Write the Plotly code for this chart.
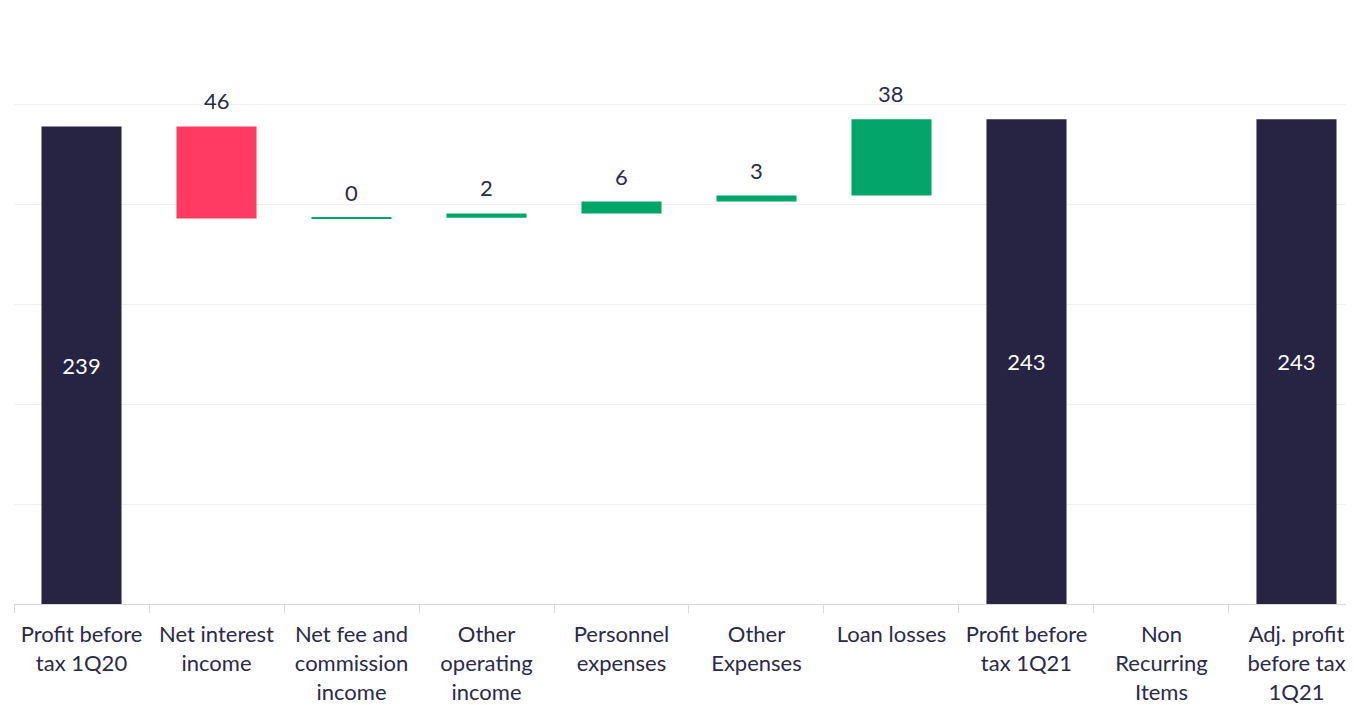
import plotly.graph_objects as go

# categories and values (EUR m)
categories = [
    "Profit before<br>tax 1Q20",
    "Net interest<br>income",
    "Net fee and<br>commission<br>income",
    "Other<br>operating<br>income",
    "Personnel<br>expenses",
    "Other<br>Expenses",
    "Loan losses",
    "Profit before<br>tax 1Q21",
    "Non<br>Recurring<br>Items",
    "Adj. profit<br>before tax<br>1Q21",
]
measures = ["absolute", "relative", "relative", "relative", "relative",
            "relative", "relative", "total", "relative", "total"]
values = [238.8, -46.0, 0.3, 2.2, 5.9, 3.0, 38.2, 0, 0, 0]
labels = ["239", "46", "0", "2", "6", "3", "38", "243", "", "243"]

NAVY = "#262343"
RED = "#FF3B64"
GREEN = "#03A56A"
TEXT = "#2B2A47"
FONT = "Lato"

# running totals, for the label positions
tops = []
running = 0
for m, v in zip(measures, values):
    if m == "absolute":
        start, running = 0, v
    elif m == "total":
        start = 0
    else:
        start, running = running, running + v
    tops.append(max(start, running))

text_in = [lab if m != "relative" else "" for m, lab in zip(measures, labels)]

fig = go.Figure(go.Waterfall(
    x=categories,
    y=values,
    measure=measures,
    text=text_in,
    textposition="inside",
    insidetextanchor="middle",
    textfont=dict(family=FONT, size=22, color="white"),
    increasing=dict(marker=dict(color=GREEN, line=dict(width=0))),
    decreasing=dict(marker=dict(color=RED, line=dict(width=0))),
    totals=dict(marker=dict(color=NAVY, line=dict(width=0))),
    connector=dict(visible=False),
    hoverinfo="skip",
))

# labels above the change bars
for cat, m, lab, top in zip(categories, measures, labels, tops):
    if m == "relative" and lab:
        fig.add_annotation(x=cat, y=top, text=lab, showarrow=False,
                           yanchor="bottom", yshift=10,
                           font=dict(family=FONT, size=22, color=TEXT))

# page body has an 8px margin, so the figure is sized to fit the window
fig.update_layout(
    width=1346,
    height=697,
    margin=dict(l=6, r=0, t=0, b=101),
    plot_bgcolor="white",
    paper_bgcolor="white",
    showlegend=False,
    waterfallgap=0.407,
    font=dict(family=FONT, size=22, color=TEXT),
)
fig.update_xaxes(
    type="category",
    range=[-0.5, 9.426],
    showline=True, linecolor="#D9D9D9", linewidth=1,
    ticks="outside", tickson="boundaries", ticklen=8, tickcolor="#D9D9D9",
    ticklabelstandoff=11,
    tickfont=dict(family=FONT, size=22, color=TEXT),
    showgrid=False,
)
fig.update_yaxes(
    range=[0, 298], dtick=50,
    showgrid=True, gridcolor="#F0F0F0", gridwidth=1,
    zeroline=False, showticklabels=False,
)

fig.write_html("out.html")
